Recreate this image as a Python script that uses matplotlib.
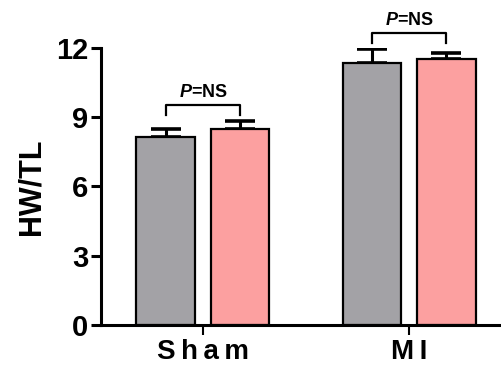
import numpy as np
import matplotlib
matplotlib.use("Agg")
import matplotlib.pyplot as plt

plt.rcParams['font.family'] = ['Liberation Sans', 'DejaVu Sans']
plt.rcParams['font.weight'] = 'bold'
plt.rcParams['mathtext.fontset'] = 'custom'
plt.rcParams['mathtext.it'] = 'Liberation Sans:bold:italic'
plt.rcParams['mathtext.rm'] = 'Liberation Sans:bold'

# data
groups = ["Sham", "MI"]
gray_means = [8.15, 11.35]
gray_err = [0.35, 0.6]
pink_means = [8.5, 11.5]
pink_err = [0.33, 0.3]
p_labels = ["$P$=NS", "$P$=NS"]

gray_col = "#a3a2a6"
pink_col = "#fca0a0"

fig = plt.figure(figsize=(5.02, 3.69), dpi=100)
ax = fig.add_axes([0.201, 0.1192, 0.799, 0.751])

x = np.arange(len(groups))
off = 0.18
w = 0.285

ax.bar(x - off, gray_means, w, color=gray_col, edgecolor="black", linewidth=1.6, zorder=2)
ax.bar(x + off, pink_means, w, color=pink_col, edgecolor="black", linewidth=1.6, zorder=2)
ax.errorbar(x - off, gray_means, yerr=[np.zeros(2), gray_err], fmt="none", ecolor="black",
            elinewidth=2.2, capsize=11, capthick=2.6, zorder=1)
ax.errorbar(x + off, pink_means, yerr=[np.zeros(2), pink_err], fmt="none", ecolor="black",
            elinewidth=2.2, capsize=11, capthick=2.6, zorder=1)

# significance brackets
for i in range(len(groups)):
    top = max(gray_means[i] + gray_err[i], pink_means[i] + pink_err[i])
    yb = top + 0.68
    leg = 0.42
    ax.plot([x[i] - off, x[i] - off, x[i] + off, x[i] + off],
            [yb - leg, yb, yb, yb - leg], color="black", lw=1.6, clip_on=False)
    ax.text(x[i], yb + 0.2, p_labels[i], ha="center", va="bottom", fontsize=13,
            fontweight="bold")

ax.set_xlim(-0.495, 1.45)
ax.set_ylim(0, 12)
ax.set_yticks([0, 3, 6, 9, 12])
ax.set_xticks(x)
# spaced-out group labels, as in the original
ax.set_xticklabels(["\u2009".join(g) for g in groups], fontsize=20, fontweight="bold")
for lab in ax.get_yticklabels():
    lab.set_fontsize(21)
    lab.set_fontweight("bold")
ax.set_ylabel("HW/TL", fontsize=22, fontweight="bold", labelpad=7)

ax.spines["top"].set_visible(False)
ax.spines["right"].set_visible(False)
ax.spines["left"].set_linewidth(2.2)
ax.spines["bottom"].set_linewidth(2.2)
ax.tick_params(axis="y", length=7, width=2.2, pad=2)
ax.tick_params(axis="x", length=7, width=1.5, pad=3)

fig.savefig("out.png", dpi=100)
